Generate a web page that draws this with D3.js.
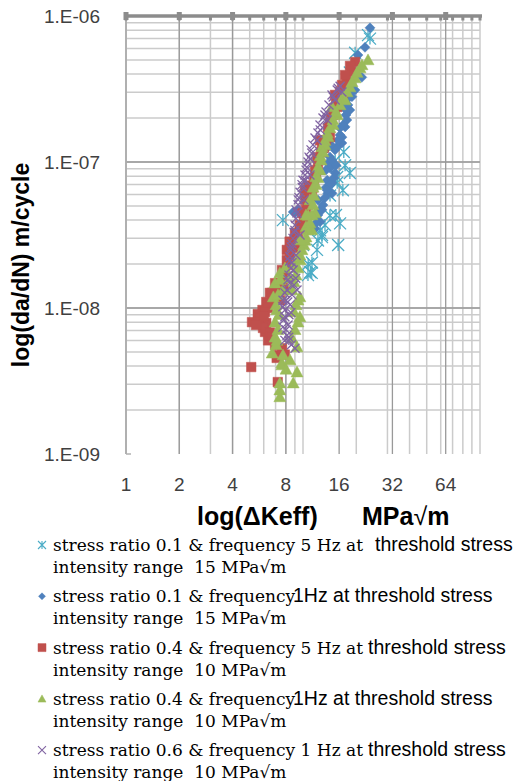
<!DOCTYPE html>
<html>
<head>
<meta charset="utf-8">
<script src="https://cdn.jsdelivr.net/npm/d3@7/dist/d3.min.js"></script>
<style>
  body { margin: 0; background: #fff; }
  text { white-space: pre; }
</style>
</head>
<body>
<script>
// ---------- data ----------
const xTickValues = [1, 2, 4, 8, 16, 32, 64];
const xTickLabels = ["1", "2", "4", "8", "16", "32", "64"];
const yTickValues = [1e-9, 1e-8, 1e-7, 1e-6];
const yTickLabels = ["1.E-09", "1.E-08", "1.E-07", "1.E-06"];

// [ΔKeff (MPa√m), da/dN (m/cycle)]
const r01f5 = [
  [23.9, 7.0e-7], [23.3, 7.4e-7], [19.7, 5.6e-7], [18.4, 4.1e-7], [17.0, 1.17e-7],
  [17.3, 9.5e-8], [18.4, 8.4e-8], [15.6, 7.9e-8], [15.6, 7.2e-8], [16.8, 6.4e-8],
  [14.2, 4.3e-8], [16.2, 3.8e-8], [15.8, 2.7e-8], [12.8, 3.06e-8], [12.5, 3.4e-8],
  [12.8, 3.16e-8], [12.15, 2.9e-8], [7.7, 4.0e-8], [10.0, 2.7e-8], [10.7, 2.0e-8],
  [11.0, 1.76e-8], [11.2, 1.74e-8], [15.2, 1.02e-7], [12.0, 2.5e-8],
  [11.24, 2.05e-8], [10.67, 1.68e-8], [13.31, 3.7e-8], [15.36, 4.34e-8], [14.21, 5.9e-8]
];
const r01f1 = [
  [23.9, 8.3e-7], [22.4, 6.1e-7], [21.5, 3.8e-7], [18.9, 2.8e-7], [18.4, 2.27e-7],
  [17.7, 1.94e-7], [17.3, 1.74e-7], [16.6, 1.48e-7], [16.2, 1.53e-7], [15.6, 1.27e-7],
  [13.7, 1.25e-7], [14.2, 1.08e-7], [13.8, 9.8e-8], [15.2, 8.4e-8], [14.6, 7.2e-8],
  [13.7, 7.5e-8], [13.5, 6.7e-8], [14.6, 6.1e-8], [13.8, 6.1e-8], [12.15, 5.5e-8],
  [12.5, 4.7e-8], [12.8, 4.7e-8], [12.5, 3.9e-8], [11.7, 3.5e-8], [9.4, 4.7e-8],
  [9.0, 4.47e-8], [8.8, 4.55e-8], [16.6, 1.35e-7], [19.2, 3.1e-7],
  [20.45, 5.4e-7], [19.67, 3.11e-7], [17.96, 2.46e-7], [17.5, 2.1e-7], [16.83, 1.79e-7],
  [16.18, 1.71e-7], [15.76, 1.41e-7], [15.16, 1.21e-7], [14.58, 1.03e-7], [14.21, 9.1e-8],
  [14.97, 7.8e-8], [14.21, 6.96e-8], [13.66, 6.43e-8], [13.31, 5.7e-8], [12.97, 5.08e-8],
  [12.15, 4.34e-8], [11.84, 3.82e-8], [11.24, 3.5e-8], [13.49, 8.8e-8], [15.36, 9.5e-8],
  [14.39, 1.31e-7], [17.05, 2.34e-7], [17.96, 2.72e-7]
];
const r04f5 = [
  [19.7, 4.84e-7], [18.9, 4.13e-7], [17.7, 3.53e-7], [16.8, 2.74e-7], [15.6, 2.38e-7],
  [14.8, 2.1e-7], [14.2, 1.85e-7], [14.2, 1.48e-7], [12.8, 1.3e-7], [12.0, 1.08e-7],
  [11.7, 8.8e-8], [10.7, 6.9e-8], [11.4, 6.7e-8], [10.3, 5.5e-8], [9.9, 4.47e-8],
  [9.6, 3.7e-8], [9.0, 3.26e-8], [8.4, 2.85e-8], [8.1, 2.5e-8], [8.1, 2.13e-8],
  [7.6, 1.82e-8], [6.95, 1.48e-8], [6.5, 1.27e-8], [6.7, 1.27e-8], [6.2, 1.1e-8],
  [5.9, 9.7e-9], [5.55, 9.1e-9], [5.15, 8.0e-9], [6.2, 7.9e-9], [6.1, 6.85e-9],
  [6.35, 6.0e-9], [7.2, 4.76e-9], [7.1, 4.55e-9], [7.9, 4.8e-9], [5.1, 3.94e-9],
  [7.2, 3.11e-9],
  [18.43, 4.55e-7], [17.27, 3.94e-7], [16.61, 3.37e-7], [16.18, 3.02e-7], [15.36, 2.66e-7],
  [14.97, 2.34e-7], [14.39, 2.0e-7], [13.84, 1.71e-7], [13.49, 1.41e-7], [13.14, 1.25e-7],
  [12.64, 1.17e-7], [12.31, 1.03e-7], [12.15, 9.5e-8], [11.84, 8.15e-8], [11.54, 7.5e-8],
  [11.24, 6.2e-8], [10.95, 5.9e-8], [10.67, 5.1e-8], [10.4, 4.7e-8], [10.13, 4.1e-8],
  [9.62, 3.53e-8], [9.37, 3.0e-8], [9.13, 2.75e-8], [8.78, 2.58e-8], [8.44, 2.31e-8],
  [8.23, 1.97e-8], [7.91, 1.76e-8], [7.71, 1.56e-8], [7.42, 1.48e-8], [7.22, 1.37e-8],
  [7.04, 1.23e-8], [6.86, 1.17e-8], [6.51, 1.08e-8], [6.34, 1.0e-8], [6.1, 9.4e-9],
  [5.71, 8.6e-9], [5.57, 8.0e-9], [5.94, 7.3e-9], [6.51, 6.8e-9], [6.68, 6.4e-9],
  [6.95, 5.6e-9], [7.61, 5.3e-9], [6.0, 8.8e-9], [5.43, 7.65e-9], [7.42, 1.13e-8],
  [7.81, 1.33e-8], [10.26, 6.4e-8], [12.47, 1.41e-7], [15.16, 2.88e-7]
];
const r04f1 = [
  [23.3, 5.0e-7], [21.0, 4.4e-7], [19.7, 3.76e-7], [18.4, 3.26e-7], [16.8, 2.79e-7],
  [14.6, 2.38e-7], [15.6, 2.1e-7], [14.8, 1.8e-7], [13.7, 1.58e-7], [13.3, 1.4e-7],
  [12.8, 1.27e-7], [12.5, 1.1e-7], [12.15, 9.2e-8], [11.8, 7.9e-8], [11.4, 6.7e-8],
  [10.95, 5.5e-8], [11.7, 4.47e-8], [10.7, 4.3e-8], [10.4, 3.6e-8], [11.2, 3.42e-8],
  [10.3, 2.9e-8], [9.6, 2.3e-8], [9.0, 2.0e-8], [8.4, 1.6e-8], [7.4, 1.74e-8],
  [6.95, 1.48e-8], [6.8, 1.19e-8], [9.6, 1.19e-8], [7.1, 9.7e-9], [9.6, 8.7e-9],
  [6.95, 6.3e-9], [9.25, 5.4e-9], [6.7, 4.9e-9], [7.6, 4.2e-9], [7.6, 4.07e-9],
  [9.25, 3.64e-9], [8.8, 3.06e-9], [7.4, 3.06e-9], [7.4, 2.74e-9], [7.4, 2.46e-9],
  [21.54, 4.62e-7], [20.2, 4.1e-7], [18.92, 3.53e-7], [17.73, 3.02e-7], [17.27, 2.66e-7],
  [16.18, 2.46e-7], [15.36, 2.2e-7], [14.77, 1.94e-7], [14.21, 1.71e-7], [13.84, 1.49e-7],
  [13.31, 1.31e-7], [12.97, 1.17e-7], [12.64, 1.03e-7], [12.47, 8.8e-8], [12.15, 7.8e-8],
  [11.84, 7.0e-8], [11.54, 5.9e-8], [11.39, 5.1e-8], [11.24, 4.34e-8], [10.95, 3.82e-8],
  [10.67, 3.42e-8], [10.4, 3.06e-8], [10.13, 2.7e-8], [9.87, 2.5e-8], [9.62, 2.13e-8],
  [9.37, 1.88e-8], [9.13, 1.68e-8], [8.9, 1.51e-8], [8.67, 1.33e-8], [9.37, 1.13e-8],
  [9.13, 1.05e-8], [8.9, 9.4e-9], [9.37, 8.0e-9], [9.01, 7.1e-9], [8.67, 6.2e-9],
  [7.91, 1.88e-8], [7.42, 1.56e-8], [7.71, 1.33e-8], [7.22, 1.23e-8], [7.04, 1.05e-8],
  [7.32, 9.0e-9], [6.95, 8.0e-9], [7.22, 7.1e-9], [7.04, 5.6e-9], [7.71, 4.76e-9],
  [8.44, 4.4e-9], [8.02, 3.8e-9], [7.13, 6.0e-9], [9.62, 2.92e-8], [10.4, 4.34e-8]
];
const r06f1 = [
  [16.2, 3.3e-7], [16.6, 3.02e-7], [15.6, 3.11e-7], [14.8, 2.79e-7], [15.2, 2.66e-7],
  [13.3, 2.1e-7], [13.7, 1.94e-7], [12.5, 1.66e-7], [12.0, 1.41e-7], [11.2, 1.15e-7],
  [10.95, 1.05e-7], [10.5, 9.2e-8], [10.3, 7.5e-8], [9.9, 6.7e-8], [9.4, 5.5e-8],
  [9.25, 4.47e-8], [9.0, 3.4e-8], [8.6, 2.62e-8], [8.4, 2.1e-8], [8.8, 1.82e-8],
  [9.1, 1.6e-8], [8.4, 1.48e-8], [7.9, 1.27e-8], [8.2, 1.1e-8], [7.7, 1.02e-8],
  [8.55, 9.3e-9], [7.9, 8.7e-9], [7.7, 7.4e-9], [8.3, 6.3e-9], [7.9, 6.0e-9],
  [8.6, 5.6e-9],
  [15.8, 3.2e-7], [14.58, 2.88e-7], [14.02, 2.46e-7], [13.49, 2.2e-7], [12.97, 2.0e-7],
  [12.47, 1.79e-7], [12.15, 1.58e-7], [11.69, 1.46e-7], [11.39, 1.31e-7], [11.1, 1.21e-7],
  [10.81, 1.08e-7], [10.67, 1.0e-7], [10.4, 8.8e-8], [10.26, 8.15e-8], [10.0, 7.5e-8],
  [9.87, 7.0e-8], [9.62, 6.2e-8], [9.49, 5.7e-8], [9.37, 5.1e-8], [9.13, 4.7e-8],
  [9.13, 4.1e-8], [9.01, 3.7e-8], [8.9, 3.3e-8], [8.78, 3.0e-8], [8.67, 2.75e-8],
  [8.55, 2.5e-8], [8.44, 2.25e-8], [8.67, 2.05e-8], [8.55, 1.88e-8], [8.33, 1.68e-8],
  [8.23, 1.56e-8], [8.9, 1.44e-8], [8.12, 1.33e-8], [8.67, 1.23e-8], [8.02, 1.13e-8],
  [8.44, 1.05e-8], [7.91, 9.7e-9], [8.33, 9.0e-9], [7.81, 8.3e-9], [8.23, 7.65e-9],
  [8.02, 7.1e-9], [8.12, 6.5e-9], [8.33, 6.0e-9], [9.01, 5.3e-9], [7.71, 1.13e-8],
  [9.25, 1.33e-8], [9.13, 2.3e-8], [9.62, 3.16e-8], [10.13, 5.5e-8], [10.95, 8.15e-8]
];

const seriesNames = ["r01f5", "r01f1", "r04f5", "r04f1", "r06f1"];
const seriesData = [r01f5, r01f1, r04f5, r04f1, r06f1];
const seriesColors = ["#4BACC6", "#4F81BD", "#C0504D", "#9BBB59", "#8064A2"];
const seriesShapes = ["asterisk", "diamond", "square", "triangle", "times"];

const legendSerif = [
  "stress ratio 0.1 & frequency 5 Hz at",
  "stress ratio 0.1 & frequency",
  "stress ratio 0.4 & frequency 5 Hz at",
  "stress ratio 0.4 & frequency",
  "stress ratio 0.6 & frequency 1 Hz at"
];
const legendSans = [
  "threshold stress",
  "1Hz at threshold stress",
  "threshold stress",
  "1Hz at threshold stress",
  "threshold stress"
];
const legendLine2 = [
  "intensity range  15 MPa√m",
  "intensity range  15 MPa√m",
  "intensity range  10 MPa√m",
  "intensity range  10 MPa√m",
  "intensity range  10 MPa√m"
];

// ---------- drawing ----------
const W = 517, H = 781;
const svg = d3.select("body").append("svg").attr("width", W).attr("height", H);
svg.append("rect").attr("width", W).attr("height", H).attr("fill", "#fff");

const x = d3.scaleLog().domain([1, 100]).range([126, 480]);
const y = d3.scaleLog().domain([1e-9, 1e-6]).range([454, 16]);

const grid = svg.append("g");
grid.selectAll(".vx").data(x.ticks()).enter().append("line")
  .attr("x1", d => x(d)).attr("x2", d => x(d)).attr("y1", 16).attr("y2", 454)
  .attr("stroke", "#cbcbcb").attr("stroke-width", 1.5);
grid.selectAll(".hy").data(y.ticks().filter(d => d > 1e-9 && d < 1e-6)).enter().append("line")
  .attr("x1", 126).attr("x2", 480).attr("y1", d => y(d)).attr("y2", d => y(d))
  .attr("stroke", "#cbcbcb").attr("stroke-width", 1.5);
grid.selectAll(".mx").data(xTickValues).enter().append("line")
  .attr("x1", d => x(d)).attr("x2", d => x(d)).attr("y1", 16).attr("y2", 454)
  .attr("stroke", "#999").attr("stroke-width", 1.3);
grid.selectAll(".my").data(yTickValues.filter(d => d > 1e-9 && d < 1e-6)).enter().append("line")
  .attr("x1", 126).attr("x2", 480).attr("y1", d => y(d)).attr("y2", d => y(d))
  .attr("stroke", "#999").attr("stroke-width", 1.3);

svg.append("line").attr("x1", 126).attr("x2", 126).attr("y1", 16).attr("y2", 454)
  .attr("stroke", "#b0b0b0").attr("stroke-width", 1.5);
svg.append("line").attr("x1", 126).attr("x2", 131).attr("y1", 454).attr("y2", 454)
  .attr("stroke", "#b0b0b0").attr("stroke-width", 1.5);

svg.append("line").attr("x1", 124).attr("x2", 482).attr("y1", 16).attr("y2", 16)
  .attr("stroke", "#8c8c8c").attr("stroke-width", 3.5);
svg.selectAll(".tmin").data(x.ticks()).enter().append("rect")
  .attr("x", d => x(d) - 1.5).attr("y", 16).attr("width", 3).attr("height", 4.5)
  .attr("fill", "#8c8c8c");
svg.selectAll(".tmaj").data(xTickValues).enter().append("rect")
  .attr("x", d => x(d) - 2.5).attr("y", 12).attr("width", 5).attr("height", 8)
  .attr("fill", "#8c8c8c");

svg.selectAll(".ylab").data(yTickValues).enter().append("text")
  .attr("x", 100).attr("y", d => y(d)).attr("dy", "0.35em")
  .attr("text-anchor", "end")
  .attr("font-family", "Liberation Sans, Arial, sans-serif").attr("font-size", 19)
  .attr("fill", "#404040")
  .text((d, i) => yTickLabels[i]);
svg.selectAll(".xlab").data(xTickValues).enter().append("text")
  .attr("x", d => x(d)).attr("y", 491)
  .attr("text-anchor", "middle")
  .attr("font-family", "Liberation Sans, Arial, sans-serif").attr("font-size", 19)
  .attr("fill", "#404040")
  .text((d, i) => xTickLabels[i]);

svg.append("text")
  .attr("transform", "translate(29,265) rotate(-90)")
  .attr("text-anchor", "middle")
  .attr("font-family", "Liberation Sans, Arial, sans-serif").attr("font-size", 23)
  .attr("font-weight", "bold").attr("fill", "#000")
  .text("log(da/dN) m/cycle");
const xt = svg.append("text").attr("y", 525)
  .attr("font-family", "Liberation Sans, Arial, sans-serif").attr("font-size", 25)
  .attr("font-weight", "bold").attr("fill", "#000");
xt.append("tspan").attr("x", 197).text("log(ΔKeff)");
xt.append("tspan").attr("x", 362).text("MPa");
xt.append("tspan").attr("font-weight", "normal").text("√");
xt.append("tspan").text("m");

function markerPath(shape, s) {
  const h = s / 2;
  switch (shape) {
    case "asterisk":
      return `M0,${-h}L0,${h}M${-h},${-h}L${h},${h}M${-h},${h}L${h},${-h}`;
    case "times":
      return `M${-h},${-h}L${h},${h}M${-h},${h}L${h},${-h}`;
    case "diamond":
      return `M0,${-h}L${h},0L0,${h}L${-h},0Z`;
    case "square":
      return `M${-h},${-h}H${h}V${h}H${-h}Z`;
    case "triangle":
      return `M0,${-h}L${h},${h * 0.8}L${-h},${h * 0.8}Z`;
  }
}
const plotSizes = [12, 10, 9.5, 12, 9];
const stroked = s => s === "asterisk" || s === "times";

seriesData.forEach((data, i) => {
  const shape = seriesShapes[i];
  svg.append("g").attr("class", seriesNames[i])
    .selectAll("path").data(data).enter().append("path")
    .attr("transform", d => `translate(${x(d[0])},${y(d[1])})`)
    .attr("d", markerPath(shape, plotSizes[i]))
    .attr("fill", stroked(shape) ? "none" : seriesColors[i])
    .attr("stroke", seriesColors[i])
    .attr("stroke-width", stroked(shape) ? 1.3 : 0.5);
});

const legendTop = 551, entryGap = 51.3, lineGap = 22;
const sansX = [375, 293, 368, 293, 368];
const legendSizes = [8, 7, 8, 8, 8];
seriesNames.forEach((n, i) => {
  const by = legendTop + i * entryGap;
  const shape = seriesShapes[i];
  svg.append("path")
    .attr("transform", `translate(42,${by - 6})`)
    .attr("d", markerPath(shape, legendSizes[i]))
    .attr("fill", stroked(shape) ? "none" : seriesColors[i])
    .attr("stroke", seriesColors[i]).attr("stroke-width", stroked(shape) ? 1.1 : 0.5);
  const t = svg.append("text").attr("y", by).attr("fill", "#000");
  t.append("tspan").attr("x", 53)
    .attr("font-family", "DejaVu Serif, serif").attr("font-size", 17)
    .text(legendSerif[i]);
  t.append("tspan").attr("x", sansX[i])
    .attr("font-family", "Liberation Sans, Arial, sans-serif").attr("font-size", 19.5)
    .text(legendSans[i]);
  svg.append("text").attr("x", 53).attr("y", by + lineGap)
    .attr("font-family", "DejaVu Serif, serif").attr("font-size", 17).attr("fill", "#000")
    .text(legendLine2[i]);
});
</script>
</body>
</html>
